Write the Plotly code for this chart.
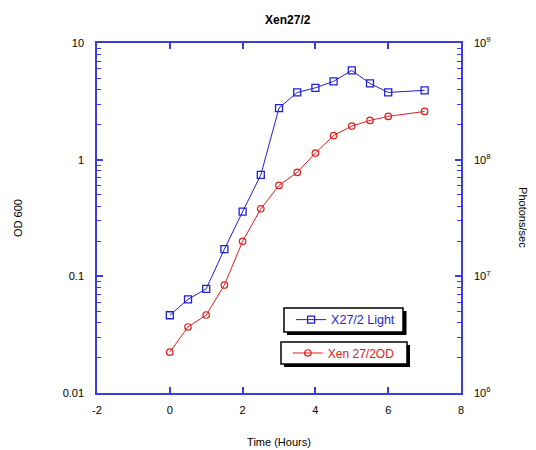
import plotly.graph_objects as go

# ---- data ----
time_hours = [0, 0.5, 1, 1.5, 2, 2.5, 3, 3.5, 4, 4.5, 5, 5.5, 6, 7]
light_photons = [4.64e6, 6.35e6, 7.8e6, 1.71e7, 3.58e7, 7.4e7, 2.77e8, 3.77e8,
                 4.13e8, 4.69e8, 5.82e8, 4.5e8, 3.77e8, 3.93e8]
od600 = [0.0224, 0.0368, 0.0466, 0.0842, 0.1995, 0.379, 0.602, 0.778,
         1.14, 1.61, 1.94, 2.17, 2.35, 2.59]
x_ticks = [-2, 0, 2, 4, 6, 8]
x_tick_text = ["-2", "0", "2", "4", "6", "8"]
left_ticks = [0.01, 0.1, 1, 10]
left_tick_text = ["0.01", "0.1", "1", "10"]
right_ticks = [1e6, 1e7, 1e8, 1e9]
right_tick_text = ["10<sup>6</sup>", "10<sup>7</sup>", "10<sup>8</sup>", "10<sup>9</sup>"]

FONT = "Liberation Sans, Arial, sans-serif"
AXC = "#3a3ae8"
BLUE = "#1f1fd6"
RED = "#e02020"

def minor_vals(lo_exp, hi_exp):
    return [m * 10 ** e for e in range(lo_exp, hi_exp) for m in range(2, 10)]

fig = go.Figure()
fig.add_trace(go.Scatter(
    x=time_hours, y=light_photons, yaxis="y2", name="X27/2 Light",
    mode="lines+markers", line=dict(color=BLUE, width=1),
    marker=dict(symbol="square-open", size=7, color=BLUE, line=dict(width=1.3)),
    legend="legend", showlegend=True))
fig.add_trace(go.Scatter(
    x=time_hours, y=od600, yaxis="y", name="Xen 27/2OD",
    mode="lines+markers", line=dict(color=RED, width=1),
    marker=dict(symbol="circle-open", size=6.5, color=RED, line=dict(width=1.2)),
    legend="legend2", showlegend=True))

shadow = dict(type="rect", xref="paper", yref="paper", fillcolor="black",
              line=dict(width=0), layer="above")
box = dict(type="rect", xref="paper", yref="paper", fillcolor="white",
           line=dict(width=1.5, color="black"), layer="above")

fig.update_layout(
    width=536, height=450,
    margin=dict(l=89, r=83, t=35, b=65),
    showlegend=True,
    paper_bgcolor="white", plot_bgcolor="white",
    font=dict(family=FONT, size=11, color="black"),
    title=dict(text="<b>Xen27/2</b>", x=0.522, xanchor="center", y=0.973, yanchor="middle",
               font=dict(size=12, family=FONT)),
    xaxis=dict(range=[-2, 8], tickvals=x_ticks, ticktext=x_tick_text, ticks="inside", ticklen=6,
               tickcolor=AXC, tickwidth=1.5, showline=True, linecolor=AXC, linewidth=1.5,
               mirror="ticks", showgrid=False, zeroline=False, ticklabelstandoff=6,
               automargin=False,
               title=dict(text="Time (Hours)", standoff=23, font=dict(size=11))),
    yaxis=dict(type="log", range=[-2, 1], tickvals=left_ticks, ticktext=left_tick_text,
               ticks="inside", ticklen=6, tickcolor=AXC, tickwidth=1.5, ticklabelstandoff=9,
               showline=True, linecolor=AXC, linewidth=1.5, showgrid=False, zeroline=False,
               automargin=False,
               minor=dict(tickvals=minor_vals(-2, 1), ticks="inside", ticklen=4,
                          tickcolor=AXC, tickwidth=1.2, showgrid=False),
               title=dict(text="OD 600", standoff=38, font=dict(size=11))),
    yaxis2=dict(type="log", range=[6, 9], overlaying="y", side="right",
                tickvals=right_ticks, ticktext=right_tick_text, ticklabelstandoff=9,
                ticks="inside", ticklen=6, tickcolor=AXC, tickwidth=1.5,
                showline=True, linecolor=AXC, linewidth=1.5, showgrid=False, zeroline=False,
                automargin=False,
                minor=dict(tickvals=minor_vals(6, 9), ticks="inside", ticklen=4,
                           tickcolor=AXC, tickwidth=1.2, showgrid=False)),
    legend=dict(x=0.514, y=0.2086, xanchor="left", yanchor="middle", indentation=7,
                bgcolor="rgba(0,0,0,0)", borderwidth=0,
                font=dict(size=12.5, color=BLUE, family=FONT), itemwidth=30),
    legend2=dict(x=0.505, y=0.1143, xanchor="left", yanchor="middle", indentation=7,
                 bgcolor="rgba(0,0,0,0)", borderwidth=0,
                 font=dict(size=12, color=RED, family=FONT), itemwidth=30),
    shapes=[dict(shadow, x0=0.522, x1=0.8503, y0=0.1657, y1=0.2343),
            dict(box, x0=0.5137, x1=0.8407, y0=0.1743, y1=0.2429),
            dict(shadow, x0=0.5137, x1=0.8599, y0=0.0743, y1=0.1371),
            dict(box, x0=0.5055, x1=0.8516, y0=0.0829, y1=0.1457)],
    annotations=[dict(text="Photons/sec", textangle=90, xref="paper", yref="paper",
                      x=1.17, xanchor="center", y=0.5, yanchor="middle",
                      showarrow=False, font=dict(size=11))],
)

fig.write_html("out.html")
